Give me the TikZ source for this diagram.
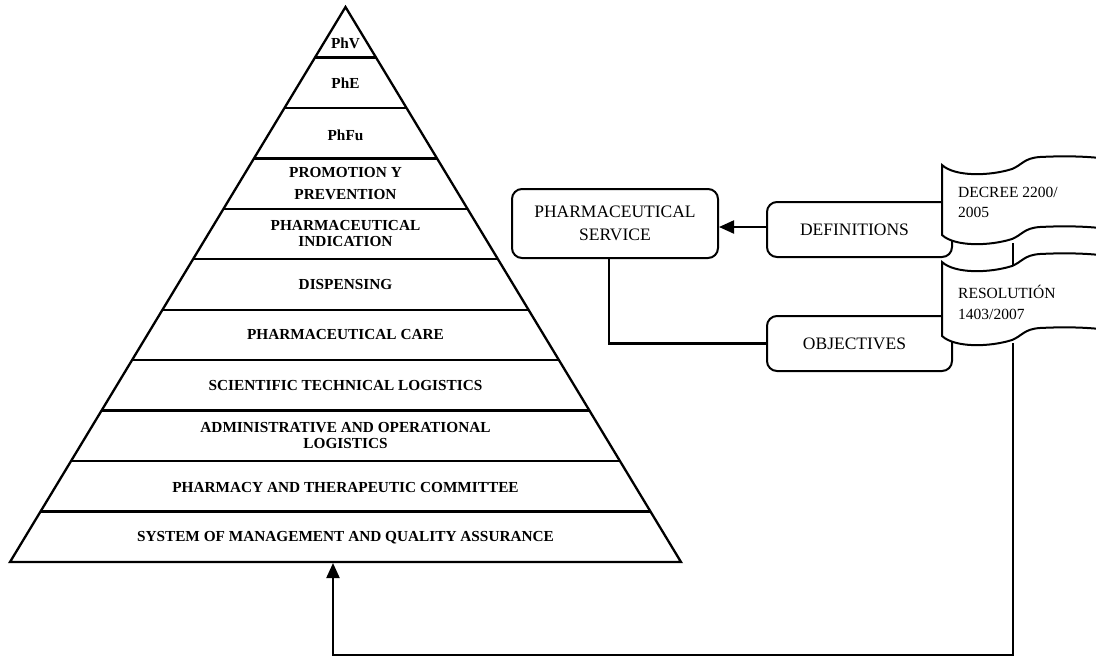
\documentclass[tikz,border=0pt]{standalone}
\usepackage{fontspec}
\setmainfont{Liberation Serif}
\usetikzlibrary{arrows.meta}
\newcommand\wavedoc[2]{%
  \filldraw[docline] (942,#1) .. controls (955,#1+12) and (990,#1+11) .. (1012,#1+4)
    .. controls (1022,#1) and (1024,#1-7) .. (1040,#1-8)
    .. controls (1060,#1-9) and (1080,#1-9) .. (1100,#1-7)
    -- (1100,#1+#2-7)
    .. controls (1080,#1+#2-9) and (1060,#1+#2-9) .. (1040,#1+#2-8)
    .. controls (1024,#1+#2-7) and (1022,#1+#2) .. (1012,#1+#2+4)
    .. controls (990,#1+#2+11) and (955,#1+#2+12) .. (942,#1+#2) -- cycle;}
\begin{document}
\begin{tikzpicture}[x=1pt,y=-1pt,
  pyr/.style={line width=2.3pt},
  ptext/.style={font=\fontsize{15.3}{16}\selectfont\bfseries, align=center, inner sep=0pt},
  box/.style={draw, line width=2pt, rounded corners=10pt, align=center, inner sep=0pt},
  conn/.style={line width=2.1pt},
  docline/.style={line width=2pt, fill=white},
  tip/.style={-{Triangle[length=15pt,width=13pt]}},
  dtext/.style={font=\fontsize{15.5}{20}\selectfont, align=left, inner sep=0pt, anchor=west}]
\useasboundingbox[fill=white] (0,0) rectangle (1096,657);
\clip (0,0) rectangle (1096,657);
% pyramid
\draw[pyr, line join=miter] (345.5,7) -- (681,562) -- (10,562) -- cycle;
\foreach \k in {1,...,10}{
  \pgfmathsetmacro\yy{7+\k*50.4545}
  \pgfmathsetmacro\hw{(\yy-7)/555*335.5}
  \draw[pyr] (345.5-\hw,\yy) -- (345.5+\hw,\yy);
}
\node[ptext] (l1) at (345.5,43) {PhV};
\node[ptext] (l2) at (345.5,83) {PhE};
\node[ptext] (l3) at (345.5,135) {PhFu};
\node[ptext, font=\fontsize{15.3}{22}\selectfont\bfseries] (l4) at (345.5,184) {PROMOTION Y\\PREVENTION};
\node[ptext] (l5) at (345.5,234) {PHARMACEUTICAL\\INDICATION};
\node[ptext] (l6) at (345.5,285) {DISPENSING};
\node[ptext] (l7) at (345.5,335) {PHARMACEUTICAL CARE};
\node[ptext] (l8) at (345.5,386) {SCIENTIFIC TECHNICAL LOGISTICS};
\node[ptext, font=\fontsize{15.3}{15.5}\selectfont\bfseries] (l9) at (345.5,435.5) {ADMINISTRATIVE AND OPERATIONAL\\LOGISTICS};
\node[ptext] (l10) at (345.5,487) {PHARMACY AND THERAPEUTIC COMMITTEE};
\node[ptext] (l11) at (345.5,537.5) {SYSTEM OF MANAGEMENT AND QUALITY ASSURANCE};
% boxes
\node[box, minimum width=206pt, minimum height=69pt, font=\fontsize{17.5}{23}\selectfont] (serv) at (615,223.5) {PHARMACEUTICAL\\SERVICE};
\node[box, minimum width=185pt, minimum height=55pt, font=\fontsize{17.5}{21}\selectfont] (defs) at (859.5,229.5) {\hspace*{-10pt}DEFINITIONS};
\node[box, minimum width=185pt, minimum height=55pt, font=\fontsize{17.5}{21}\selectfont] (obj) at (859.5,343.5) {\hspace*{-10pt}OBJECTIVES};
% connectors
\draw[conn, tip] ([yshift=2.5pt]defs.west) -- ([yshift=2.5pt]defs.west -| serv.east);
\draw[conn] ([xshift=-6pt]serv.south) |- (obj.west);
\coordinate (decout) at (1013,243);
\coordinate (resin) at (1013,280);
\coordinate (resout) at (1013,343);
\coordinate (corner) at (1013,655);
\coordinate (pbase) at (333,563);
\draw[conn] (decout) -- (resin);
\draw[conn, tip] (resout) -- (corner) -| (pbase);
% documents
\wavedoc{165}{70}
\wavedoc{262}{74}
\node[dtext, font=\fontsize{15.5}{19.5}\selectfont] (dec) at (958,202.5) {DECREE 2200/\\2005};
\node[dtext, font=\fontsize{15.5}{21}\selectfont] (res) at (958,302.5) {RESOLUTIÓN\\1403/2007};
\end{tikzpicture}
\end{document}
